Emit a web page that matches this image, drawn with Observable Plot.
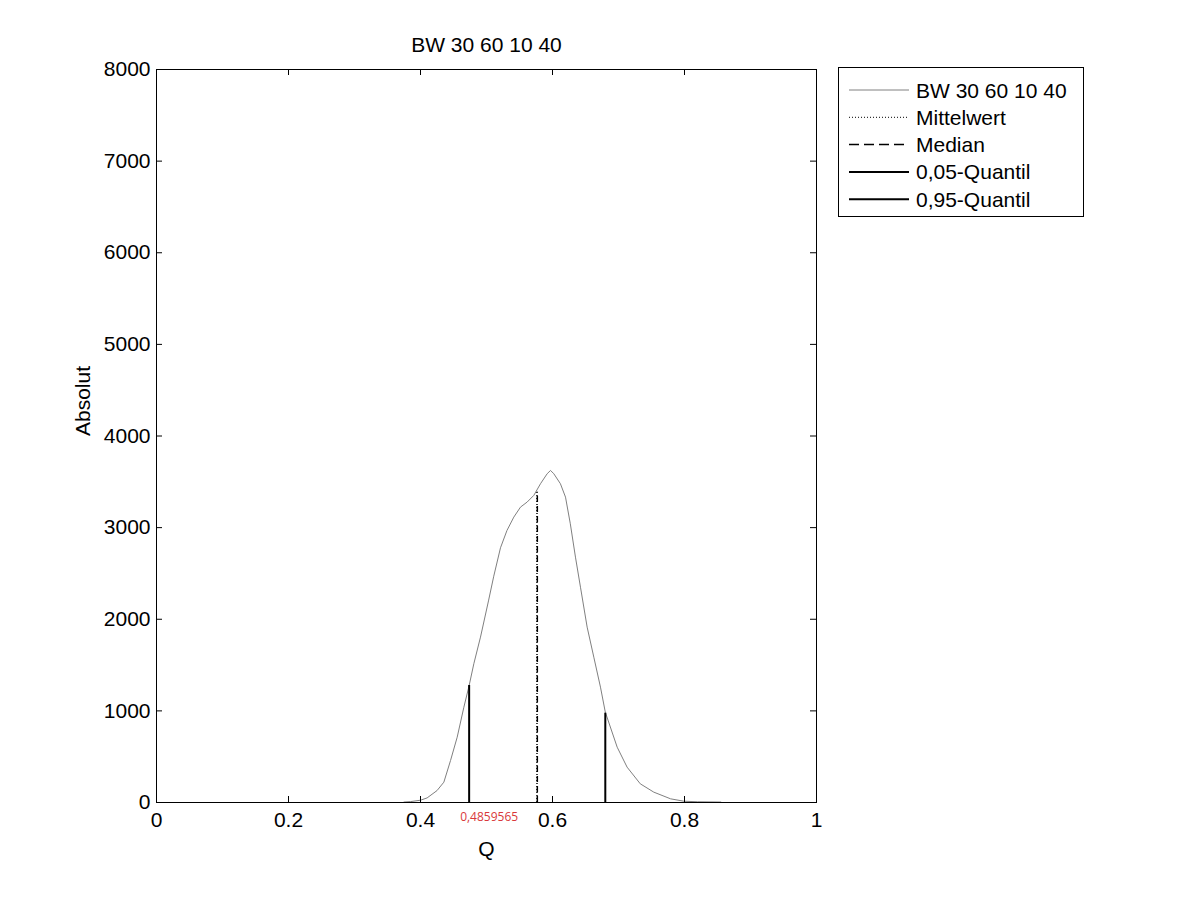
<!DOCTYPE html>
<html>
<head>
<meta charset="utf-8">
<script src="https://cdn.jsdelivr.net/npm/d3@7"></script>
<script src="https://cdn.jsdelivr.net/npm/@observablehq/plot@0.6"></script>
<style>
  html, body { margin: 0; padding: 0; background: #fff; }
  svg { display: block; }
</style>
</head>
<body>
<div id="chart"></div>
<script>
// ---- data ----
const qValues = [0.375, 0.385, 0.400, 0.410, 0.425, 0.4354, 0.4455, 0.4556, 0.4657, 0.4737,
  0.4808, 0.4909, 0.503, 0.511, 0.5212, 0.531, 0.5414, 0.5515, 0.5616, 0.5717,
  0.5818, 0.5919, 0.597, 0.602, 0.612, 0.6197, 0.627, 0.6348, 0.6424, 0.6525,
  0.6626, 0.6727, 0.680, 0.698, 0.713, 0.733, 0.7535, 0.779, 0.799, 0.820, 0.855];
const counts = [5, 10, 25, 50, 130, 222, 458, 713, 1040, 1277,
  1514, 1805, 2200, 2470, 2780, 2969, 3115, 3224, 3279, 3352,
  3479, 3588, 3624, 3588, 3479, 3333, 3042, 2678, 2350, 1914,
  1586, 1259, 986, 604, 386, 204, 113, 40, 14, 8, 5];
const meanQ = 0.5765, meanCount = 3387;
const medianQ = 0.577, medianCount = 3387;
const q05 = 0.4737, q05Count = 1277;
const q95 = 0.680, q95Count = 975;
const annotationText = "0,4859565";
const annotationQ = 0.504;
const xTicks = [0, 0.2, 0.4, 0.6, 0.8, 1];
const yTicks = [0, 1000, 2000, 3000, 4000, 5000, 6000, 7000, 8000];
const titleText = "BW 30 60 10 40";
const legendLabels = ["BW 30 60 10 40", "Mittelwert", "Median", "0,05-Quantil", "0,95-Quantil"];

const curve = qValues.map((q, i) => ({q, c: counts[i]}));
const rules = [
  {q: q05, c: q05Count},
  {q: q95, c: q95Count}
];

const W = 1201, H = 901;
const mL = 156, mR = 385, mT = 69, mB = 99;
const pw = W - mL - mR, ph = H - mT - mB;
const font = "'Liberation Sans', Arial, sans-serif";
const fs = 21;

const chart = Plot.plot({
  width: W, height: H,
  marginLeft: mL, marginRight: mR, marginTop: mT, marginBottom: mB,
  style: {fontFamily: font, fontSize: fs + "px", background: "#fff", color: "#000"},
  x: {domain: [0, 1]},
  y: {domain: [0, 8000]},
  marks: [
    Plot.line(curve, {x: "q", y: "c", stroke: "#808080", strokeWidth: 1}),
    Plot.ruleX([{q: medianQ, c: medianCount}], {x: "q", y1: 0, y2: "c", stroke: "#000", strokeWidth: 1.5, strokeDasharray: "6,4"}),
    Plot.ruleX([{q: meanQ, c: meanCount}], {x: "q", y1: 0, y2: "c", stroke: "#000", strokeWidth: 1.5, strokeDasharray: "1,2"}),
    Plot.ruleX(rules, {x: "q", y1: 0, y2: "c", stroke: "#000", strokeWidth: 2}),
    Plot.frame({stroke: "#000", strokeWidth: 1}),
    // inward ticks on all four sides
    Plot.tickX(xTicks, {x: d => d, insetTop: ph - 6, stroke: "#000"}),
    Plot.tickX(xTicks, {x: d => d, insetBottom: ph - 6, stroke: "#000"}),
    Plot.tickY(yTicks, {y: d => d, insetRight: pw - 6, stroke: "#000"}),
    Plot.tickY(yTicks, {y: d => d, insetLeft: pw - 6, stroke: "#000"}),
    Plot.axisX(xTicks, {anchor: "bottom", tickSize: 0, tickPadding: 10, tickFormat: d => String(d), label: null, fontSize: fs}),
    Plot.axisY(yTicks, {anchor: "left", tickSize: 0, tickPadding: 6, tickFormat: d => String(d), label: null, fontSize: fs}),
    Plot.text([titleText], {frameAnchor: "top", dy: -24, text: d => d, fontSize: fs, lineAnchor: "middle"}),
    Plot.text(["Q"], {frameAnchor: "bottom", dy: 47, text: d => d, fontSize: fs, lineAnchor: "middle"}),
    Plot.text(["Absolut"], {frameAnchor: "left", dx: -73, rotate: -90, text: d => d, fontSize: fs, lineAnchor: "middle"}),
    Plot.text([annotationText], {x: () => annotationQ, y: () => 0, text: d => d, dy: 15, fill: "#d9383a", fontSize: 12, fontFamily: "'Open Sans', sans-serif", lineAnchor: "middle"})
  ]
});

document.getElementById("chart").appendChild(chart);

// ---- legend (box to the right of the axes) ----
const svg = d3.select(chart);
const lg = svg.append("g").attr("font-family", font).attr("font-size", fs).attr("text-anchor", "start");
const bx = 838.5, by = 67.5, bw = 245, bh = 149;
lg.append("rect").attr("x", bx).attr("y", by).attr("width", bw).attr("height", bh)
  .attr("fill", "#fff").attr("stroke", "#000").attr("stroke-width", 1);
const styles = [
  {stroke: "#808080", width: 1, dash: null},
  {stroke: "#000", width: 1, dash: "1,2"},
  {stroke: "#000", width: 1.5, dash: "10,5"},
  {stroke: "#000", width: 2, dash: null},
  {stroke: "#000", width: 2, dash: null}
];
legendLabels.forEach((lab, i) => {
  const yy = 90 + i * 27.3;
  lg.append("line").attr("x1", 849).attr("x2", 909).attr("y1", yy).attr("y2", yy)
    .attr("stroke", styles[i].stroke).attr("stroke-width", styles[i].width)
    .attr("stroke-dasharray", styles[i].dash);
  lg.append("text").attr("x", 916).attr("y", yy).attr("dy", "0.36em").attr("fill", "#000")
    .attr("text-anchor", "start").text(lab);
});
</script>
</body>
</html>
